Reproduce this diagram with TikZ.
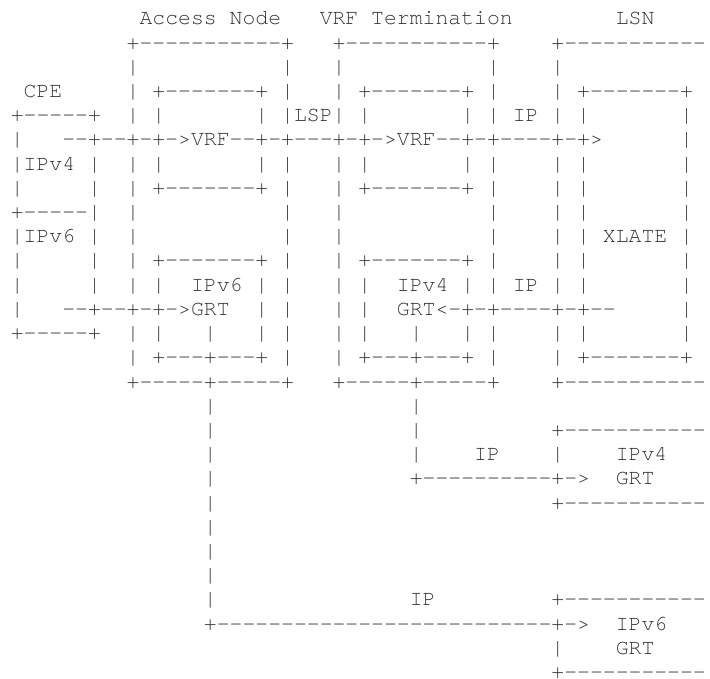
\documentclass[tikz,border=0pt]{standalone}
\usepackage{fontspec}
\setmonofont{TeX Gyre Cursor}
\usepackage{tikz}

\tikzset{
  ascii/.style={anchor=base west, inner sep=0pt, outer sep=0pt, text depth=0pt,
    text=black!80, font=\ttfamily\fontsize{21.45pt}{24pt}\selectfont}
}

\begin{document}
\begin{tikzpicture}[x=1pt,y=1pt]
        \def\cw{12.87}
        \def\rh{24.2}
        \def\xo{10.87}
        \def\yo{25}
        % Page frame
        \useasboundingbox (0,0) rectangle (710,-679);
        % Each row/column/text: one run of characters on the grid
        \foreach \r/\c/\s in {
          1/10/Access Node, 1/24/VRF Termination, 1/47/LSN,
          2/9/+-----------+, 2/25/+-----------+, 2/42/+-----------,
          3/9/|, 3/21/|, 3/25/|, 3/37/|, 3/42/|,
          4/1/CPE, 4/9/|, 4/11/+-------+, 4/21/|, 4/25/|, 4/27/+-------+, 4/37/|, 4/42/|, 4/44/+-------+,
          5/0/+-----+, 5/9/|, 5/11/|, 5/19/|, 5/21/|LSP|, 5/27/|, 5/35/|, 5/37/|, 5/39/IP, 5/42/|, 5/44/|, 5/52/|,
          6/0/|, 6/4/--+--+-+->VRF--+-+---+-+->VRF--+-+----+-+>, 6/52/|,
          7/0/|IPv4, 7/6/|, 7/9/|, 7/11/|, 7/19/|, 7/21/|, 7/25/|, 7/27/|, 7/35/|, 7/37/|, 7/42/|, 7/44/|, 7/52/|,
          8/0/|, 8/6/|, 8/9/|, 8/11/+-------+, 8/21/|, 8/25/|, 8/27/+-------+, 8/37/|, 8/42/|, 8/44/|, 8/52/|,
          9/0/+-----|, 9/9/|, 9/21/|, 9/25/|, 9/37/|, 9/42/|, 9/44/|, 9/52/|,
          10/0/|IPv6, 10/6/|, 10/9/|, 10/21/|, 10/25/|, 10/37/|, 10/42/|, 10/44/|, 10/46/XLATE, 10/52/|,
          11/0/|, 11/6/|, 11/9/|, 11/11/+-------+, 11/21/|, 11/25/|, 11/27/+-------+, 11/37/|, 11/42/|, 11/44/|, 11/52/|,
          12/0/|, 12/6/|, 12/9/|, 12/11/|, 12/14/IPv6, 12/19/|, 12/21/|, 12/25/|, 12/27/|, 12/30/IPv4, 12/35/|, 12/37/|, 12/39/IP, 12/42/|, 12/44/|, 12/52/|,
          13/0/|, 13/4/--+--+-+->GRT, 13/19/|, 13/21/|, 13/25/|, 13/27/|, 13/30/GRT<-+-+----+-+--, 13/52/|,
          14/0/+-----+, 14/9/|, 14/11/|, 14/15/|, 14/19/|, 14/21/|, 14/25/|, 14/27/|, 14/31/|, 14/35/|, 14/37/|, 14/42/|, 14/44/|, 14/52/|,
          15/9/|, 15/11/+---+---+, 15/21/|, 15/25/|, 15/27/+---+---+, 15/37/|, 15/42/|, 15/44/+-------+,
          16/9/+-----+-----+, 16/25/+-----+-----+, 16/42/+-----------,
          17/15/|, 17/31/|,
          18/15/|, 18/31/|, 18/42/+-----------,
          19/15/|, 19/31/|, 19/36/IP, 19/42/|, 19/47/IPv4,
          20/15/|, 20/31/+----------+->, 20/47/GRT,
          21/15/|, 21/42/+-----------,
          22/15/|, 23/15/|, 24/15/|,
          25/15/|, 25/31/IP, 25/42/+-----------,
          26/15/+--------------------------+->, 26/47/IPv6,
          27/42/|, 27/47/GRT,
          28/42/+-----------}
          \node[ascii] (r\r-\c) at ({\xo+\c*\cw},{-\yo-(\r-1)*\rh}) {\s};
\end{tikzpicture}
\end{document}
